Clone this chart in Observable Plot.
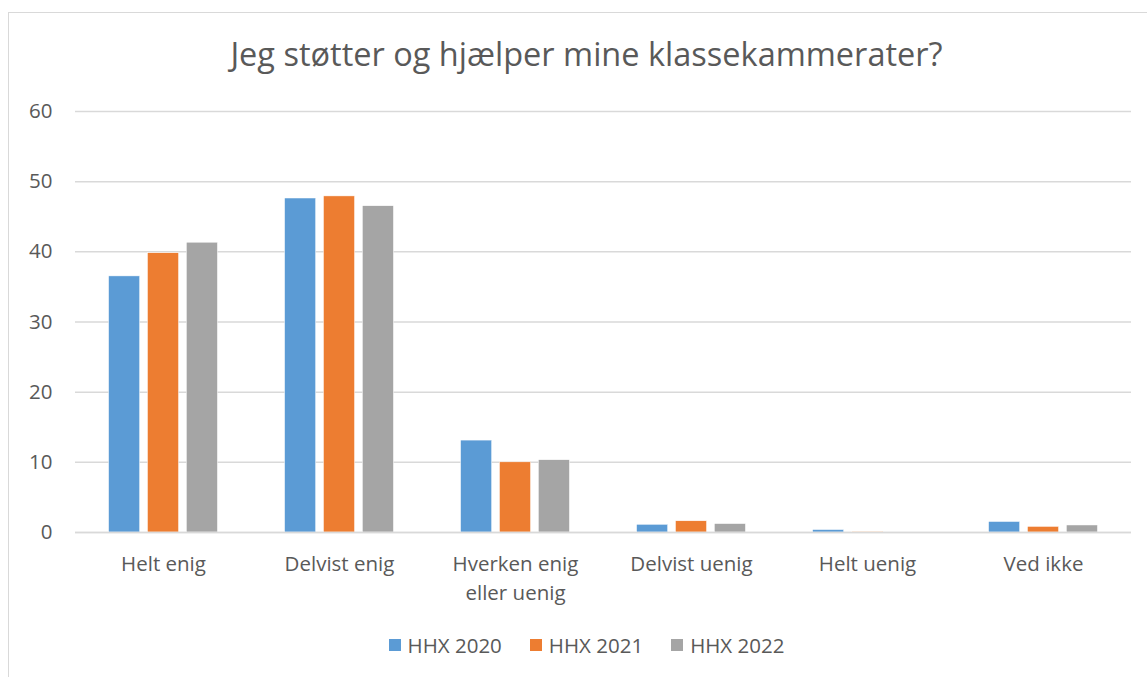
<!DOCTYPE html>
<html>
<head>
<meta charset="utf-8">
<script src="https://cdn.jsdelivr.net/npm/d3@7"></script>
<script src="https://cdn.jsdelivr.net/npm/@observablehq/plot@0.6"></script>
<style>
  html, body { margin: 0; padding: 0; background: #fff; overflow: hidden; }
  body { width: 1147px; height: 677px; position: relative; font-family: "Open Sans", sans-serif; color: #595959; }
  #frame { position: absolute; left: 8px; top: 12px; width: 1160px; height: 700px; border: 1px solid #d9d9d9; box-sizing: border-box; }
  #title { position: absolute; left: 0; width: 1173px; top: 38px; text-align: center; font-size: 32.5px; line-height: 32px; color: #595959; white-space: nowrap; }
  #chart { position: absolute; left: 0; top: 80px; }
  #legend { position: absolute; left: 0; width: 1173px; top: 632px; display: flex; justify-content: center; gap: 28px; font-size: 20.5px; line-height: 26px; color: #595959; }
  .item { display: flex; align-items: center; gap: 7px; }
  .sw { width: 12px; height: 12px; display: inline-block; }
</style>
</head>
<body>
<div id="frame"></div>
<div id="title">Jeg støtter og hjælper mine klassekammerater?</div>
<div id="chart"></div>
<div id="legend"></div>
<script>
const categories = ["Helt enig", "Delvist enig", "Hverken enig eller uenig", "Delvist uenig", "Helt uenig", "Ved ikke"];
const categoryLabels = ["Helt enig", "Delvist enig", "Hverken enig\neller uenig", "Delvist uenig", "Helt uenig", "Ved ikke"];
const series = ["HHX 2020", "HHX 2021", "HHX 2022"];
const v2020 = [36.5, 47.6, 13.1, 1.1, 0.35, 1.5];
const v2021 = [39.8, 47.9, 10.0, 1.6, 0.1, 0.8];
const v2022 = [41.3, 46.5, 10.3, 1.2, 0, 1.0];
const colors = ["#5b9bd5", "#ed7d31", "#a5a5a5"];
const yTicks = [0, 10, 20, 30, 40, 50, 60];

const seriesValues = [v2020, v2021, v2022];
const data = [];
categories.forEach((c, i) => {
  series.forEach((s, j) => data.push({category: c, series: s, value: seriesValues[j][i]}));
});
const labelOf = new Map(categories.map((c, i) => [c, categoryLabels[i]]));

const plot = Plot.plot({
  width: 1147,
  height: 540,
  marginLeft: 73,
  marginRight: 15,
  marginTop: 31,
  marginBottom: 88,
  style: {fontFamily: "'Open Sans', sans-serif", color: "#595959", background: "transparent"},
  fx: {domain: categories, padding: 0, label: null},
  x: {domain: series, paddingInner: 0.2, paddingOuter: 0.863, round: false, axis: null},
  y: {domain: [0, 60], label: null},
  color: {domain: series, range: colors},
  marks: [
    Plot.gridY(yTicks, {stroke: "#d9d9d9", strokeOpacity: 1, strokeWidth: 1.5}),
    Plot.barY(data, {fx: "category", x: "series", y: "value", fill: "series", stroke: "white", strokeWidth: 0.5}),
    Plot.ruleY([0], {stroke: "#d9d9d9", strokeWidth: 1.5}),
    Plot.axisY(yTicks, {tickSize: 0, tickPadding: 23, fontSize: 20.5, fill: "#595959", label: null}),
    Plot.axisFx({anchor: "bottom", tickSize: 0, tickPadding: 17, fontSize: 20.5, fill: "#595959", lineHeight: 1.45, label: null, tickFormat: d => labelOf.get(d)})
  ]
});
document.getElementById("chart").appendChild(plot);

const legend = document.getElementById("legend");
series.forEach((s, i) => {
  const item = document.createElement("div");
  item.className = "item";
  const sw = document.createElement("span");
  sw.className = "sw";
  sw.style.background = colors[i];
  const t = document.createElement("span");
  t.textContent = s;
  item.appendChild(sw);
  item.appendChild(t);
  legend.appendChild(item);
});
</script>
</body>
</html>
